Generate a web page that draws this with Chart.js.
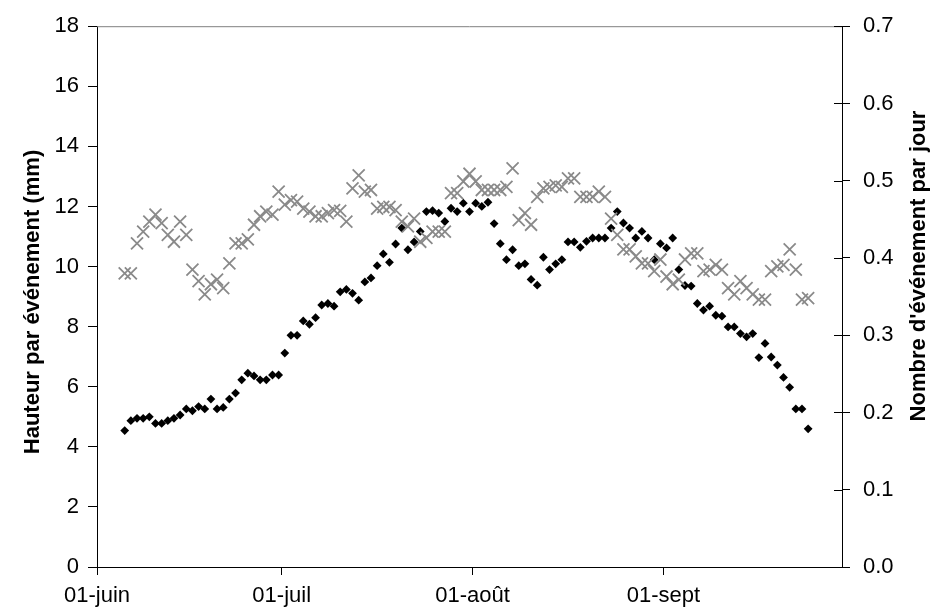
<!DOCTYPE html>
<html>
<head>
<meta charset="utf-8">
<script src="https://cdn.jsdelivr.net/npm/chart.js@4/dist/chart.umd.min.js"></script>
<style>
  body { margin: 0; background: #fff; }
  #wrap { width: 930px; height: 616px; }
</style>
</head>
<body>
<div id="wrap"><canvas id="pluie" width="930" height="616"></canvas></div>
<script>
// jours depuis le 01-juin (moyenne glissante, centree sur la demi-journee)
var firstDay = 4.5;

var hauteur = [
  4.54, 4.87, 4.95, 4.95, 5.00, 4.78, 4.78, 4.87, 4.95, 5.06,
  5.26, 5.20, 5.34, 5.26, 5.59, 5.26, 5.31, 5.59, 5.79, 6.23,
  6.45, 6.36, 6.23, 6.23, 6.39, 6.39, 7.12, 7.71, 7.71, 8.19,
  8.08, 8.30, 8.72, 8.77, 8.68, 9.16, 9.24, 9.11, 8.88, 9.49,
  9.62, 10.03, 10.42, 10.14, 10.75, 11.28, 10.56, 10.82, 11.17, 11.83,
  11.86, 11.78, 11.50, 11.94, 11.83, 12.11, 11.83, 12.11, 12.00, 12.14,
  11.43, 10.76, 10.23, 10.56, 10.03, 10.09, 9.57, 9.38, 10.31, 9.90,
  10.09, 10.23, 10.82, 10.82, 10.64, 10.84, 10.95, 10.95, 10.95, 11.28,
  11.83, 11.45, 11.28, 10.95, 11.17, 10.95, 10.23, 10.76, 10.62, 10.95,
  9.90, 9.37, 9.35, 8.77, 8.55, 8.68, 8.38, 8.35, 7.99, 7.99,
  7.77, 7.66, 7.77, 6.97, 7.44, 6.99, 6.72, 6.31, 5.98, 5.26,
  5.26, 4.60
];

var nombre = [
  0.380, 0.380, 0.419, 0.434, 0.447, 0.456, 0.445, 0.430, 0.421, 0.447,
  0.430, 0.385, 0.370, 0.353, 0.366, 0.372, 0.361, 0.393, 0.419, 0.419,
  0.424, 0.443, 0.454, 0.460, 0.456, 0.486, 0.469, 0.475, 0.473, 0.464,
  0.460, 0.454, 0.454, 0.458, 0.462, 0.461, 0.447, 0.490, 0.507, 0.486,
  0.488, 0.464, 0.466, 0.466, 0.462, 0.447, 0.441, 0.451, 0.421, 0.426,
  0.434, 0.434, 0.434, 0.484, 0.484, 0.499, 0.509, 0.499, 0.488, 0.488,
  0.488, 0.488, 0.492, 0.516, 0.449, 0.458, 0.443, 0.479, 0.490, 0.492,
  0.494, 0.492, 0.503, 0.503, 0.479, 0.479, 0.479, 0.486, 0.479, 0.451,
  0.430, 0.411, 0.411, 0.402, 0.393, 0.393, 0.383, 0.398, 0.376, 0.366,
  0.372, 0.398, 0.406, 0.406, 0.383, 0.385, 0.391, 0.385, 0.361, 0.353,
  0.370, 0.361, 0.353, 0.346, 0.346, 0.383, 0.389, 0.391, 0.411, 0.385,
  0.346, 0.348
];

var monthDays = [0, 30, 61, 92];
var monthLabels = ['01-juin', '01-juil', '01-ao\u00fbt', '01-sept'];
var leftTitle = 'Hauteur par \u00e9v\u00e9nement (mm)';
var rightTitle = "Nombre d'\u00e9v\u00e9nement par jour";

var FONT = "'Liberation Sans', Arial, sans-serif";

function points(values) {
  var out = [];
  for (var i = 0; i < values.length; i++) {
    out.push({ x: firstDay + i, y: values[i] });
  }
  return out;
}

// titres verticaux + cadre haut gris + graduations croisees a droite
var decor = {
  id: 'decor',
  afterDraw: function (chart) {
    var ctx = chart.ctx, a = chart.chartArea;
    ctx.save();
    ctx.strokeStyle = '#808080';
    ctx.lineWidth = 1;
    ctx.beginPath();
    ctx.moveTo(a.left, a.top + 0.5);
    ctx.lineTo(a.right, a.top + 0.5);
    ctx.stroke();

    var y2 = chart.scales.y2;
    ctx.strokeStyle = '#000';
    ctx.beginPath();
    y2.ticks.forEach(function (t) {
      var py = Math.round(y2.getPixelForValue(t.value)) + 0.5;
      ctx.moveTo(a.right - 8, py);
      ctx.lineTo(a.right, py);
    });
    ctx.stroke();

    ctx.fillStyle = '#000';
    ctx.font = 'bold 22px ' + FONT;
    ctx.textAlign = 'center';
    ctx.textBaseline = 'middle';

    ctx.save();
    ctx.translate(33, 302);
    ctx.rotate(-Math.PI / 2);
    ctx.fillText(leftTitle, 0, 0);
    ctx.restore();

    ctx.save();
    ctx.translate(919, 266);
    ctx.rotate(-Math.PI / 2);
    ctx.fillText(rightTitle, 0, 0);
    ctx.restore();

    ctx.restore();
  }
};

function makeChart() {
  var ctx = document.getElementById('pluie').getContext('2d');
  return new Chart(ctx, {
    type: 'scatter',
    data: {
      datasets: [
        {
          label: rightTitle,
          data: points(nombre),
          yAxisID: 'y2',
          pointStyle: 'crossRot',
          radius: 8.5,
          borderWidth: 1.8,
          borderColor: '#8a8a8a',
          backgroundColor: '#8a8a8a',
          order: 0
        },
        {
          label: leftTitle,
          data: points(hauteur),
          yAxisID: 'y',
          pointStyle: 'rectRot',
          radius: 4.4,
          borderWidth: 0,
          borderColor: '#000',
          backgroundColor: '#000',
          order: 1
        }
      ]
    },
    options: {
      responsive: false,
      animation: false,
      layout: { padding: { top: 24, left: 0, right: 0, bottom: 0 } },
      plugins: { legend: { display: false }, tooltip: { enabled: false } },
      scales: {
        x: {
          type: 'linear',
          min: 0,
          max: 121,
          afterFit: function (s) { s.height = 49; },
          afterBuildTicks: function (s) {
            s.ticks = monthDays.map(function (d) { return { value: d }; });
          },
          ticks: {
            autoSkip: false,
            maxRotation: 0,
            padding: 8,
            color: '#000',
            font: { family: FONT, size: 22 },
            callback: function (v) {
              var k = monthDays.indexOf(v);
              return k < 0 ? '' : monthLabels[k];
            }
          },
          grid: { drawOnChartArea: false, drawTicks: true, tickLength: 8, color: '#000' },
          border: { display: true, color: '#000', width: 1 }
        },
        y: {
          position: 'left',
          min: 0,
          max: 18,
          afterFit: function (s) { s.width = 97; },
          ticks: {
            stepSize: 2,
            padding: 9,
            color: '#000',
            font: { family: FONT, size: 22 }
          },
          grid: { drawOnChartArea: false, drawTicks: true, tickLength: 9, color: '#000' },
          border: { display: true, color: '#000', width: 1 }
        },
        y2: {
          position: 'right',
          min: 0,
          max: 0.7,
          afterFit: function (s) { s.width = 88; },
          ticks: {
            stepSize: 0.1,
            padding: 13,
            color: '#000',
            font: { family: FONT, size: 22 },
            callback: function (v) { return v.toFixed(1); }
          },
          grid: { drawOnChartArea: false, drawTicks: true, tickLength: 8, color: '#000' },
          border: { display: true, color: '#000', width: 1 }
        }
      }
    },
    plugins: [decor]
  });
}

var pluieChart = makeChart();
</script>
</body>
</html>
